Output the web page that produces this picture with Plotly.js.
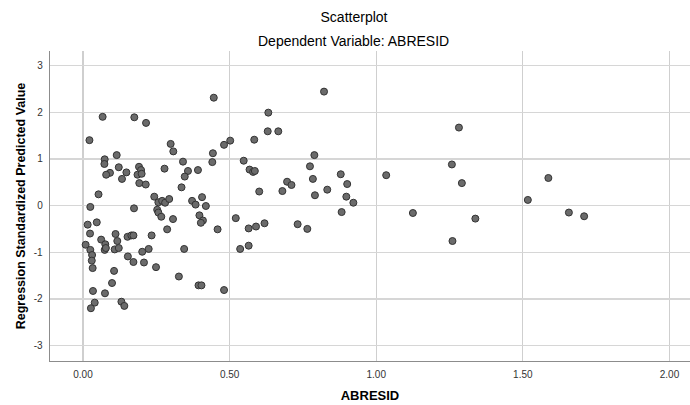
<!DOCTYPE html>
<html>
<head>
<meta charset="utf-8">
<script src="https://cdn.plot.ly/plotly-3.0.1.min.js"></script>
<style>
  html, body { margin: 0; padding: 0; background: #ffffff; }
  #chart { width: 690px; height: 405px; }
</style>
</head>
<body>
<div id="chart"></div>
<script>
// ABRESID (x) values
const abresid = [
  0.446, 0.067, 0.175, 0.215, 0.022, 0.299, 0.308, 0.502, 0.481, 0.443,
  0.441, 0.115, 0.074, 0.073, 0.122, 0.092, 0.079, 0.148, 0.133, 0.191,
  0.198, 0.186, 0.200, 0.192, 0.214, 0.278, 0.341, 0.358, 0.347, 0.392,
  0.336, 0.053, 0.243, 0.257, 0.270, 0.280, 0.294, 0.372, 0.384, 0.406,
  0.419, 0.025, 0.174, 0.253, 0.257, 0.267, 0.307, 0.397, 0.409, 0.402,
  0.459, 0.287, 0.521, 0.016, 0.047, 0.024, 0.009, 0.025, 0.031, 0.030,
  0.033, 0.062, 0.076, 0.074, 0.078, 0.111, 0.117, 0.108, 0.122, 0.152,
  0.165, 0.172, 0.234, 0.153, 0.172, 0.202, 0.224, 0.208, 0.249, 0.345,
  0.327, 0.106, 0.099, 0.034, 0.075, 0.040, 0.027, 0.131, 0.141, 0.394,
  0.404, 0.481, 0.822, 0.632, 0.630, 0.666, 0.584, 0.789, 0.548, 0.774,
  0.568, 0.580, 0.586, 0.784, 0.879, 0.901, 0.696, 0.711, 0.601, 0.680,
  0.791, 0.833, 0.898, 0.922, 1.034, 0.882, 0.565, 0.590, 0.619, 0.732,
  0.765, 0.536, 0.565, 1.282, 1.258, 1.292, 1.125, 1.338, 1.260, 1.587,
  1.517, 1.657, 1.709
];
// Regression Standardized Predicted Value (y) values
const predicted = [
  2.31, 1.90, 1.89, 1.77, 1.40, 1.32, 1.16, 1.39, 1.30, 1.12,
  0.93, 1.08, 0.99, 0.89, 0.82, 0.70, 0.66, 0.71, 0.57, 0.83,
  0.76, 0.66, 0.68, 0.48, 0.45, 0.79, 0.94, 0.74, 0.62, 0.76,
  0.39, 0.24, 0.19, 0.07, 0.10, 0.06, 0.14, 0.10, 0.02, 0.18,
  -0.01, -0.03, -0.06, -0.09, -0.15, -0.24, -0.29, -0.21, -0.32, -0.37,
  -0.51, -0.51, -0.27, -0.41, -0.36, -0.60, -0.84, -0.95, -1.06, -1.18,
  -1.34, -0.73, -0.83, -0.95, -0.91, -0.61, -0.76, -0.94, -0.91, -0.67,
  -0.64, -0.64, -0.64, -1.09, -1.21, -0.99, -0.93, -1.22, -1.32, -0.93,
  -1.52, -1.40, -1.66, -1.83, -1.88, -2.08, -2.20, -2.06, -2.15, -1.71,
  -1.71, -1.81, 2.44, 1.99, 1.59, 1.59, 1.41, 1.08, 0.96, 0.84,
  0.77, 0.72, 0.74, 0.57, 0.67, 0.46, 0.51, 0.44, 0.30, 0.31,
  0.22, 0.34, 0.19, 0.06, 0.65, -0.14, -0.49, -0.45, -0.38, -0.40,
  -0.50, -0.93, -0.86, 1.67, 0.88, 0.48, -0.16, -0.28, -0.76, 0.59,
  0.12, -0.15, -0.23
];
const xTickVals = [0, 0.5, 1.0, 1.5, 2.0];
const xTickText = ["0.00", "0.50", "1.00", "1.50", "2.00"];
const yTickVals = [-3, -2, -1, 0, 1, 2, 3];
const yTickText = ["-3", "-2", "-1", "0", "1", "2", "3"];
const chartTitle = "Scatterplot";
const chartSubtitle = "Dependent Variable: ABRESID";
const xTitle = "ABRESID";
const yTitle = "Regression Standardized Predicted Value";

const FONT = "'Liberation Sans', Arial, sans-serif";

const trace = {
  type: "scatter",
  mode: "markers",
  x: abresid,
  y: predicted,
  marker: { size: 7, color: "#6b6b6b", line: { color: "#333333", width: 1 } },
  hoverinfo: "skip"
};

const layout = {
  width: 690, height: 405,
  margin: { l: 50, r: 0, t: 51, b: 44, pad: 0 },
  paper_bgcolor: "#ffffff",
  plot_bgcolor: "#ffffff",
  showlegend: false,
  font: { family: FONT, color: "#000000" },
  title: {
    text: chartTitle,
    font: { family: FONT, size: 14, color: "#000000" },
    x: 354 / 690, xanchor: "center", xref: "container",
    y: 1 - 17 / 405, yanchor: "middle", yref: "container"
  },
  annotations: [{
    text: chartSubtitle,
    xref: "paper", yref: "paper",
    x: (353 - 50) / 640, y: (361 - 41) / 310,
    xanchor: "center", yanchor: "middle",
    showarrow: false,
    font: { family: FONT, size: 14, color: "#000000" }
  }],
  xaxis: {
    range: [-0.1125, 2.07],
    tickvals: xTickVals, ticktext: xTickText,
    showgrid: true, gridcolor: "#cfcfcf", gridwidth: 1.3,
    zeroline: false,
    showline: true, linecolor: "#8c8c8c", linewidth: 1.3,
    ticks: "", ticklabelstandoff: 4,
    tickfont: { family: FONT, size: 10, color: "#333333" },
    title: { text: xTitle, standoff: 11, font: { family: FONT, size: 13, weight: 700, color: "#000000" } },
    fixedrange: true
  },
  yaxis: {
    range: [-3.33, 3.31],
    tickvals: yTickVals, ticktext: yTickText,
    showgrid: true, gridcolor: "#d6d6d6", gridwidth: 1.3,
    zeroline: false,
    showline: true, linecolor: "#8c8c8c", linewidth: 1.3,
    ticks: "", ticklabelstandoff: 4,
    tickfont: { family: FONT, size: 10, color: "#333333" },
    title: { text: yTitle, standoff: 5, font: { family: FONT, size: 12.5, weight: 700, color: "#000000" } },
    fixedrange: true
  }
};

Plotly.newPlot("chart", [trace], layout, { displayModeBar: false, staticPlot: true });
</script>
</body>
</html>
